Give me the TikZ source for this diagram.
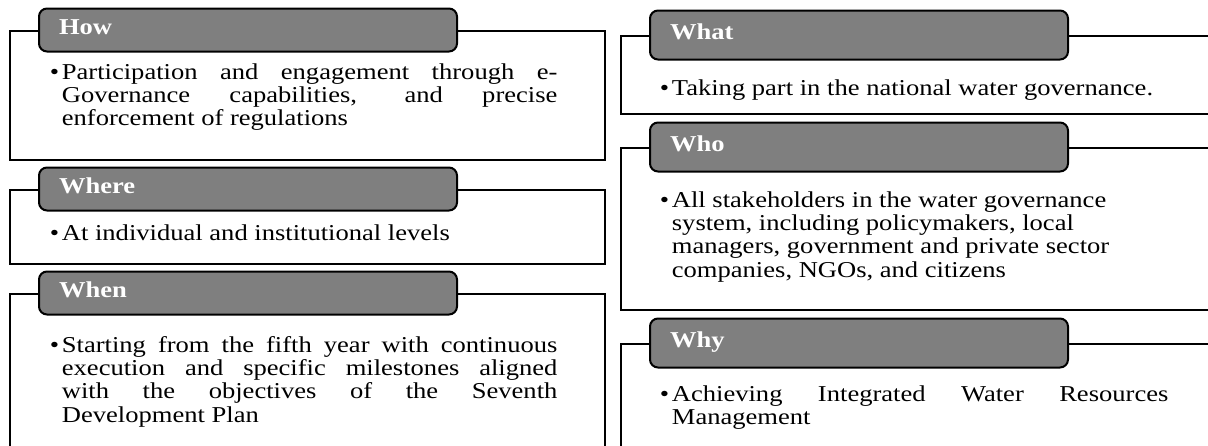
\documentclass[tikz,border=0pt]{standalone}
\usepackage{fontspec}
\setmainfont{Liberation Serif}[FakeStretch=1.17]
\usetikzlibrary{positioning}
\definecolor{headgray}{HTML}{7F7F7F}
\newcommand\bodyfont{\fontsize{11.35pt}{11.7pt}\selectfont}
\newcommand\bul[1]{\makebox[6pt][l]{\textbullet}\parbox[t]{\dimexpr\linewidth-6pt}{\baselineskip=11.7pt\leftskip=0pt\rightskip=0pt\parfillskip=0pt plus 1fil\tolerance=10000\hbadness=10000 #1}}

\begin{document}
\begin{tikzpicture}[x=0.5pt,y=-0.5pt,font=\bodyfont,
  boxframe/.style={draw, line width=1pt, inner sep=0pt, anchor=north west},
  headtab/.style={draw, line width=1pt, fill=headgray, rounded corners=4pt, text=white,
    font={\bodyfont\bfseries}, anchor=west, text width=189pt, inner xsep=10pt, align=left,
    text height=6.5pt, text depth=2.5pt},
  bullettext/.style={anchor=base west, inner sep=0pt, text width=#1, align=justify}]
  \useasboundingbox (0,0) rectangle (1208,445);
  \clip (0,0) rectangle (1208,445);

  \node[boxframe, minimum width=297.5pt, minimum height=64.5pt] (howbox) at (9,30) {};
  \node[boxframe, minimum width=297.5pt, minimum height=37pt] (wherebox) at (9,189) {};
  \node[boxframe, minimum width=297.5pt, minimum height=90pt] (whenbox) at (9,293) {};
  \node[boxframe, minimum width=310pt, minimum height=39pt] (whatbox) at (620,35) {};
  \node[boxframe, minimum width=310pt, minimum height=81pt] (whobox) at (620,147) {};
  \node[boxframe, minimum width=310pt, minimum height=90pt] (whybox) at (620,343) {};

  \node[headtab, minimum height=21.5pt] (howhd) at ([xshift=14.5pt]howbox.north west) {How};
  \node[headtab, minimum height=21.5pt] (wherehd) at ([xshift=14.5pt]wherebox.north west) {Where};
  \node[headtab, minimum height=21.5pt] (whenhd) at ([xshift=14.5pt]whenbox.north west) {When};
  \node[headtab, minimum height=24.5pt] (whathd) at ([xshift=14.5pt]whatbox.north west) {What};
  \node[headtab, minimum height=24.5pt] (whohd) at ([xshift=14.5pt]whobox.north west) {Who};
  \node[headtab, minimum height=24.5pt] (whyhd) at ([xshift=14.5pt]whybox.north west) {Why};

  \node[bullettext=253.75pt] (howtxt) at (49.5,79) {\bul{Participation and engagement through e-\linebreak Governance capabilities, and precise\linebreak enforcement of regulations}};
  \node[bullettext=300pt] (wheretxt) at (49.5,240) {\bul{At individual and institutional levels}};
  \node[bullettext=253.75pt] (whentxt) at (49.5,352) {\bul{Starting from the fifth year with continuous\linebreak execution and specific milestones aligned\linebreak with the objectives of the Seventh\linebreak Development Plan}};
  \node[bullettext=300pt] (whattxt) at (659.5,95) {\bul{Taking part in the national water governance.}};
  \node[bullettext=300pt] (whotxt) at (659.5,207) {\bul{\raggedright All stakeholders in the water governance\newline system, including policymakers, local\newline managers, government and private sector\newline companies, NGOs, and citizens}};
  \node[bullettext=254.25pt] (whytxt) at (659.5,401) {\bul{Achieving Integrated Water Resources\linebreak Management}};
\end{tikzpicture}
\end{document}
